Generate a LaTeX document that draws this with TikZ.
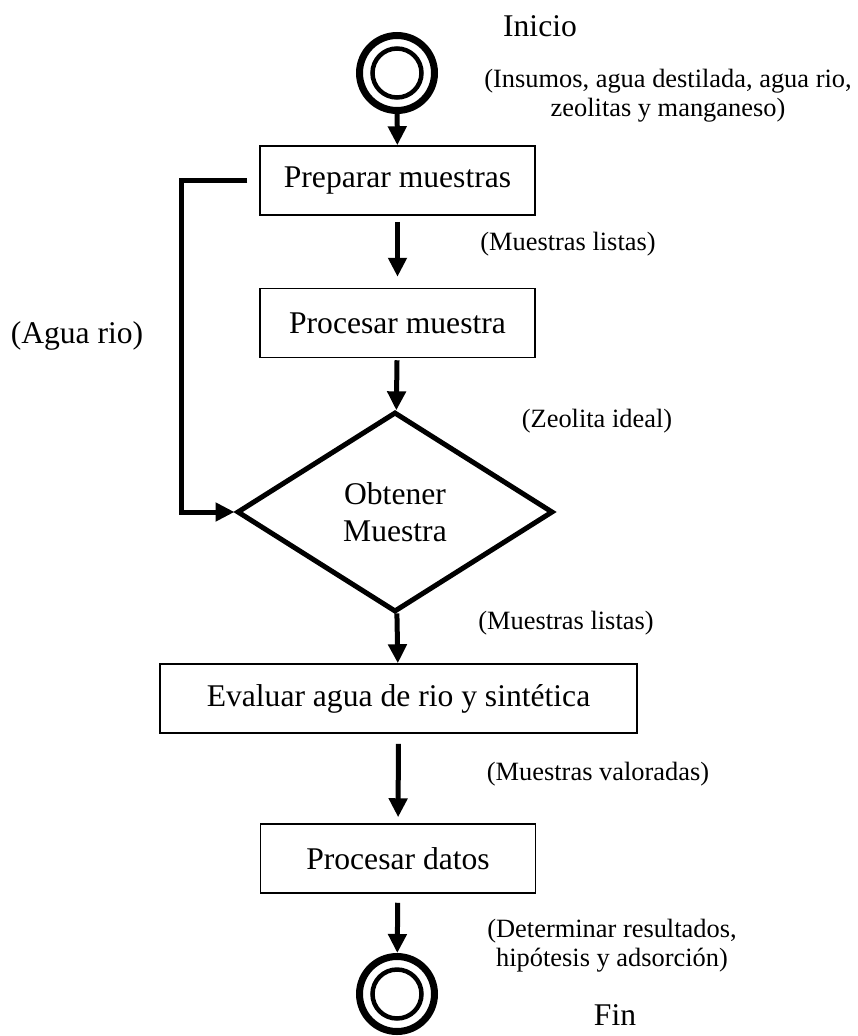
\documentclass[tikz,border=0pt]{standalone}
\usepackage{fontspec}
\setmainfont{Liberation Serif}
\usetikzlibrary{shapes.geometric,arrows.meta}

\begin{document}
\begin{tikzpicture}[x=1pt,y=-1pt,
	procbox/.style={draw, line width=1.5pt, minimum width=275pt, minimum height=69pt, inner sep=0pt, font=\fontsize{31.6}{37}\selectfont},
	decbox/.style={draw, diamond, line width=5pt, minimum width=316pt, minimum height=200pt, inner sep=0pt, align=center, font=\fontsize{31.6}{37}\selectfont},
	ring/.style={draw, circle, line width=7pt, minimum size=75pt, inner sep=0pt},
	note/.style={align=center, font=\fontsize{26.4}{29}\selectfont},
	big/.style={font=\fontsize{31.6}{37}\selectfont},
	flow/.style={line width=5pt, -{Triangle[length=19pt,width=18pt]}}]
% border
\useasboundingbox (0,0) rectangle (858,1036);

% start and end
\foreach \name/\y in {ini/73, fin/994} {
	\node[ring] (\name) at (397,\y) {};
	\draw[line width=4.5pt] (\name.center) circle (24.5);
}

% steps
\node[procbox] (prep) at (397.5,180.5) {Preparar muestras};
\node[procbox] (procm) at (397.5,323) {Procesar muestra};
\node[decbox] (obt) at (395,512) {Obtener\\Muestra};
\node[procbox, minimum width=477pt] (eval) at (398.5,698.5) {Evaluar agua de rio y sintética};
\node[procbox] (procd) at (398,858.5) {Procesar datos};

% arrows
\draw[flow] (ini) -- (prep);
\draw[flow, shorten <=6pt, shorten >=11pt] (prep) -- (procm);
\draw[flow, shorten <=2pt] (procm) -- (obt);
\draw[flow] (obt) -- (eval);
\draw[flow, shorten <=10pt, shorten >=6pt] (eval) -- (procd);
\draw[flow, shorten <=9pt] (procd) -- (fin);

% back to the diamond
\draw[flow] ([xshift=-12pt]prep.west) -- ++(-66,0) |- (obt.west);

% texts
\node[big] (tini) at (540,26) {Inicio};
\node[note] (tins) at (668,96) {(Insumos, agua destilada, agua rio,\\zeolitas y manganeso)};
\node[note] (tml1) at (568,244) {(Muestras listas)};
\node[big] (tagua) at (77,336) {(Agua rio)};
\node[note] (tzeo) at (597,421) {(Zeolita ideal)};
\node[note] (tml2) at (566,623) {(Muestras listas)};
\node[note] (tval) at (598,774) {(Muestras valoradas)};
\node[note] (tdet) at (612,946) {(Determinar resultados,\\hipótesis y adsorción)};
\node[big] (tfin) at (615,1015) {Fin};

\end{tikzpicture}
\end{document}
